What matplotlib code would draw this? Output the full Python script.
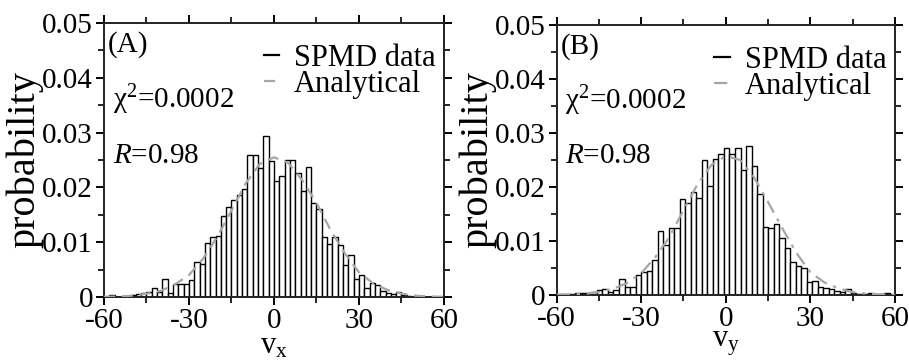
import numpy as np
import matplotlib
matplotlib.use("Agg")
import matplotlib.pyplot as plt
from matplotlib.lines import Line2D
from matplotlib.ticker import MultipleLocator, FuncFormatter

# histogram heights (panel A: v_x, panel B: v_y)
vx_prob = [
    0, 0.0003, 0, 0, 0.0001, 0.0003, 0.0006, 0.0008, 0.0009, 0.0016,
    0.0010, 0.0033, 0.0008, 0.0024, 0.0024, 0.0024, 0.0031, 0.0063, 0.0060, 0.0098,
    0.0109, 0.0111, 0.0148, 0.0165, 0.0177, 0.0186, 0.0197, 0.0259, 0.0259, 0.0235,
    0.0294, 0.0248, 0.0212, 0.0221, 0.0250, 0.0250, 0.0227, 0.0194, 0.0237, 0.0172,
    0.0161, 0.0109, 0.0097, 0.0109, 0.0094, 0.0059, 0.0076, 0.0033, 0.0041, 0.0017,
    0.0025, 0.0021, 0.0011, 0.0008, 0.0006, 0.0009, 0.0003, 0.0001, 0, 0,
    0, 0, 0, 0,
]
vy_prob = [
    0, 0.0002, 0.0002, 0.0002, 0.0003, 0.0004, 0.0004, 0.0005, 0.0009, 0.0010,
    0.0006, 0.0009, 0.0029, 0.0015, 0.0015, 0.0036, 0.0042, 0.0045, 0.0064, 0.0118,
    0.0093, 0.0124, 0.0124, 0.0178, 0.0170, 0.0191, 0.0179, 0.0250, 0.0201, 0.0252,
    0.0261, 0.0272, 0.0260, 0.0272, 0.0232, 0.0276, 0.0238, 0.0187, 0.0125, 0.0123,
    0.0131, 0.0105, 0.0086, 0.0060, 0.0054, 0.0050, 0.0024, 0.0026, 0.0015, 0.0012,
    0.0011, 0.0007, 0.0005, 0.0010, 0.0003, 0.0002, 0.0001, 0.0003, 0.0001, 0.0001,
    0.0003, 0,
]

# analytical curves, read at every 5 units
curve_v = [-60, -55, -50, -45, -40, -35, -30, -25, -20, -15, -10, -5, 0,
           5, 10, 15, 20, 25, 30, 35, 40, 45, 50, 55, 60]
vx_curve = [0.00003, 0.0001, 0.00024, 0.0006, 0.0011, 0.0023, 0.0040, 0.0070,
            0.0110, 0.0158, 0.0207, 0.0243, 0.0255, 0.0245, 0.0213, 0.0172,
            0.0122, 0.0080, 0.0045, 0.0025, 0.0013, 0.0006, 0.00024, 0.0001, 0.00003]
vy_curve = [0.00002, 0.00008, 0.0002, 0.0005, 0.0011, 0.0022, 0.0040, 0.0070,
            0.0107, 0.0157, 0.0205, 0.0241, 0.0257, 0.0250, 0.0218, 0.0172,
            0.0124, 0.0078, 0.0042, 0.0023, 0.0012, 0.0005, 0.0002, 0.0001, 0.00003]

xticks = [-60, -30, 0, 30, 60]
yticks = [0, 0.01, 0.02, 0.03, 0.04, 0.05]

plt.rcParams.update({
    "font.family": ["Liberation Serif", "DejaVu Serif"],
    "mathtext.fontset": "custom",
    "mathtext.rm": "Liberation Serif",
    "mathtext.it": "Liberation Serif:italic",
    "axes.unicode_minus": False,
    "font.size": 21,
    "axes.linewidth": 1.4,
    "axes.edgecolor": "#222222",
    "xtick.direction": "out",
    "ytick.direction": "out",
    "xtick.major.size": 6,
    "ytick.major.size": 6,
    "xtick.minor.size": 4,
    "ytick.minor.size": 4,
    "xtick.major.width": 1.4,
    "ytick.major.width": 1.4,
    "xtick.minor.width": 1.2,
    "ytick.minor.width": 1.2,
    "xtick.labelsize": 21,
    "ytick.labelsize": 21,
})

fig = plt.figure(figsize=(9.09, 3.6), dpi=100)
ax_a = fig.add_axes([0.1144, 0.175, 0.374, 0.761])
ax_b = fig.add_axes([0.6124, 0.181, 0.372, 0.75])

edges_a = np.linspace(-60, 60, len(vx_prob) + 1)
edges_b = np.linspace(-61.4, -61.4 + 1.96 * len(vy_prob), len(vy_prob) + 1)


def yfmt(v, pos):
    return "0" if abs(v) < 1e-9 else f"{v:.2f}"


def panel(ax, edges, probs, curve, dashes, tag, sub):
    ax.bar(edges[:-1], probs, width=np.diff(edges), align="edge",
           facecolor="white", edgecolor="black", linewidth=1.0, zorder=2)
    ax.plot(curve_v, curve, color="#a6a6a6", linewidth=1.6,
            dashes=dashes, zorder=3)
    ax.set_xlim(-60, 60)
    ax.set_ylim(0, 0.05)
    ax.set_xticks(xticks)
    ax.set_yticks(yticks)
    ax.xaxis.set_minor_locator(MultipleLocator(15))
    ax.yaxis.set_minor_locator(MultipleLocator(0.005))
    ax.yaxis.set_major_formatter(FuncFormatter(yfmt))
    ax.tick_params(which="both", top=True, right=True)
    ax.tick_params(axis="x", pad=2)
    ax.tick_params(axis="y", pad=2)
    ax.set_ylabel("probability", fontsize=29, labelpad=-1)
    ax.set_xlabel(r"$\mathrm{v}_{\mathrm{%s}}$" % sub, fontsize=22, labelpad=-2)

    ax.text(0.012, 0.92, tag, transform=ax.transAxes, va="center", ha="left")
    ax.text(0.026, 0.72, "\u03c7$^{2}$=0.0002", transform=ax.transAxes,
            va="center", ha="left")
    ax.text(0.026, 0.515, r"$R$=0.98", transform=ax.transAxes,
            va="center", ha="left")

    handles = [
        Line2D([], [], color="black", linewidth=1.6),
        Line2D([], [], color="#a6a6a6", linewidth=1.6, dashes=dashes),
    ]
    ax.legend(handles, ["SPMD data", "Analytical"], loc="upper right",
              bbox_to_anchor=(1.03, 0.99), frameon=False, handlelength=0.5,
              handletextpad=0.5, labelspacing=-0.1, borderaxespad=0.2,
              fontsize=22)


panel(ax_a, edges_a, vx_prob, vx_curve, (5, 3), "(A)", "x")
panel(ax_b, edges_b, vy_prob, vy_curve, (6, 3, 1.5, 3), "(B)", "y")

fig.savefig("out.png", dpi=100)
